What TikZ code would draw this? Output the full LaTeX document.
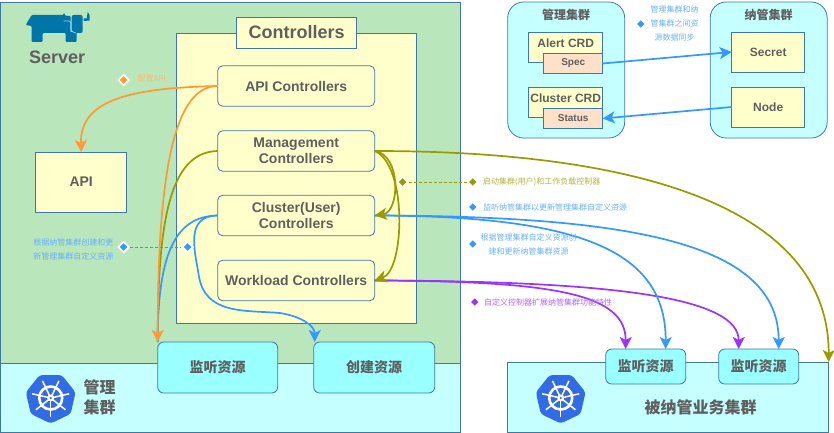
\documentclass[tikz,border=0pt]{standalone}
\usepackage{fontspec}
\usepackage{tikz}
\usetikzlibrary{arrows.meta}
\usetikzlibrary{shapes.geometric}
\setmainfont{Liberation Sans}
\newfontfamily\cjk{Noto Sans CJK SC}
\definecolor{edgeblue}{HTML}{3F78A8}
\definecolor{greenbg}{HTML}{B9E6BB}
\definecolor{cyanbg}{HTML}{C6FFFF}
\definecolor{cyanbox}{HTML}{99FFFF}
\definecolor{yellowbg}{HTML}{FFFFCC}
\definecolor{peachbg}{HTML}{FFE0C8}
\definecolor{greytext}{HTML}{5F5F5F}
\definecolor{orangeline}{HTML}{FF9933}
\definecolor{oliveline}{HTML}{999900}
\definecolor{blueline}{HTML}{3399FF}
\definecolor{purpleline}{HTML}{9933FF}
\definecolor{kubeblue}{HTML}{326CE5}
\definecolor{bullblue}{HTML}{0075A8}
\tikzset{
    block/.style={draw=edgeblue, line width=.8pt, inner sep=0pt, outer sep=0pt, text=greytext, align=center, font=\bfseries\fontsize{14}{16}\selectfont},
    ctrl/.style={block, rounded corners=5pt, fill=yellowbg, minimum width=157pt, minimum height=40.5pt},
    watch/.style={block, rounded corners=6pt, fill=cyanbox, font=\cjk\bfseries\fontsize{14}{16}\selectfont},
    crd/.style={block, fill=yellowbg, minimum width=74pt, minimum height=30pt},
    crdpart/.style={block, fill=peachbg, minimum width=59pt, minimum height=20pt, font=\bfseries\fontsize{10}{12}\selectfont},
    inner/.style={block, fill=yellowbg, minimum width=73pt, minimum height=40pt, font=\bfseries\fontsize{12}{14}\selectfont},
    cluster/.style={block, fill=cyanbg, rounded corners=16pt, minimum width=117pt, minimum height=136pt},
    title/.style={text=greytext, inner sep=0pt, font=\cjk\bfseries\fontsize{#1}{#1}\selectfont},
    flow/.style={-{Stealth[length=12pt,width=12pt,inset=3pt]}, line width=1.7pt, draw=#1},
    plain/.style={line width=1.7pt, draw=#1},
    keymark/.style={diamond, fill=#1, inner sep=0pt, minimum size=7.5pt},
    whitemark/.style={diamond, fill=#1, draw=white, line width=1.6pt, inner sep=0pt, minimum size=11pt},
    note/.style={text=#1, inner sep=0pt, align=center, font=\cjk\fontsize{8}{14}\selectfont},
    helm/.pic={
        \fill[kubeblue, rounded corners=3pt] (90:25.5)
            \foreach \a in {1,...,6} { -- (90+\a*360/7:25.5) } -- cycle;
        \draw[white, line width=2.6pt] (0,0) circle (11.5);
        \foreach \a in {0,...,6} {
            \draw[white, line width=1.5pt] (0,0) -- (90+\a*360/7:19);
        }
        \fill[white] (0,0) circle (3.5);
        \fill[kubeblue] (0,0) circle (1.2);
    },
}
\begin{document}
\begin{tikzpicture}[x=1pt,y=-1pt,semithick]
    \useasboundingbox (0.3,0) rectangle (834.3,433);

    % left side
    \node[block, fill=greenbg, minimum width=460pt, minimum height=361pt] (server) at (231,182.5) {};
    \node[block, fill=cyanbg, minimum width=460pt, minimum height=69pt] (manage) at (231,397.5) {};
    \node[block, fill=yellowbg, minimum width=240pt, minimum height=290pt] (ctrlarea) at (297,178) {};
    \node[block, fill=yellowbg, minimum width=120pt, minimum height=31pt, font=\bfseries\fontsize{18}{20}\selectfont] (ctrltitle) at (297,32.5) {Controllers};

    \node[ctrl] (apictrl) at (296.5,86) {API Controllers};
    \node[ctrl] (mgmtctrl) at (296.5,151) {Management\\Controllers};
    \node[ctrl] (userctrl) at (296.5,215.5) {Cluster(User)\\Controllers};
    \node[ctrl] (loadctrl) at (296.5,280.5) {Workload Controllers};
    \node[block, fill=yellowbg, minimum width=91pt, minimum height=60pt] (api) at (81.5,182) {API};

    % bull
    \fill[bullblue, rounded corners=1pt] (26,25) -- (32,15) -- (64,15) -- (64,12.5) -- (66,16) -- (71,16) -- (71,32) -- (66,32) -- (77,32) -- (77,42) -- (66,42) -- (66,33) -- (43,33) -- (43,42) -- (32,42) -- (32,26) -- cycle;
    \fill[bullblue, rounded corners=2pt] (72,15) -- (83,15) -- (83,33) -- (72,33) -- cycle;
    \draw[cyan!45!white, line width=.7pt, rounded corners=2pt] (64,21) -- (71,21) -- (71,31) -- (76,33);
    \fill[bullblue] (84,18.5) -- (87,18.5) -- (88,12) -- (90,15) -- (90,20.5) -- (84,21) -- cycle;
    \node[text=greytext, inner sep=0pt, font=\bfseries\fontsize{18}{20}\selectfont] (servername) at (57.5,57) {Server};

    \pic at (51,398) {helm};
    \node[title=16, align=center, font=\cjk\bfseries\fontsize{16}{20}\selectfont] (managename) at (100,397.5) {管理\\集群};

    % right side
    \node[block, fill=cyanbg, minimum width=321pt, minimum height=70pt] (business) at (668.5,397) {};
    \pic at (561,398) {helm};
    \node[title=16] (businessname) at (701,407) {被纳管业务集群};

    % top right
    \node[cluster] (topmanage) at (566.5,70) {};
    \node[cluster] (topunder) at (769,70) {};
    \node[title=12] (topmanagename) at (566.5,15) {管理集群};
    \node[title=12] (topundername) at (769,15) {纳管集群};
    \node[crd] (alert) at (566,47) {};
    \node[crd] (clustercrd) at (566,102) {};
    \node[crdpart] (spec) at (573.5,63.5) {Spec};
    \node[crdpart] (status) at (573.5,118.5) {Status};
    \node[inner sep=0pt, text=greytext, font=\bfseries\fontsize{12}{14}\selectfont] (alertname) at (566,43) {Alert CRD};
    \node[inner sep=0pt, text=greytext, font=\bfseries\fontsize{12}{14}\selectfont] (clustername) at (566,98.5) {Cluster CRD};
    \node[inner] (secret) at (768.5,52) {Secret};
    \node[inner] (nodebox) at (768.5,107) {Node};

    \draw[flow=blueline] (spec.east) -- (secret.west);
    \draw[flow=blueline] (nodebox.west) -- (status.east);

    % connector ends
    \coordinate (watchleft) at (158,342);
    \coordinate (createtop) at (315,342);
    \coordinate (underone) at (626,349);
    \coordinate (undertwo) at (666,349);
    \coordinate (underthree) at (739,349);
    \coordinate (underfour) at (779,349);
    \coordinate (underedge) at (829,362);

    \draw[flow=oliveline] (mgmtctrl.east) .. controls (620,151) and (829,200) .. (underedge);
    \draw[flow=purpleline] (loadctrl.east) .. controls (560,281) and (626,295) .. (underone);
    \draw[flow=purpleline] (loadctrl.east) .. controls (630,281) and (739,300) .. (underthree);
    \draw[flow=blueline] (userctrl.east) .. controls (580,216) and (666,250) .. (undertwo);
    \draw[flow=blueline] (userctrl.east) .. controls (640,216) and (779,245) .. (underfour);
    \draw[flow=oliveline] (mgmtctrl.east) .. controls (402,155) and (400,212) .. (userctrl.east);
    \draw[flow=oliveline] (mgmtctrl.east) .. controls (408,165) and (405,270) .. (loadctrl.east);

    \draw[flow=orangeline] (apictrl.west) .. controls (130,88) and (80,100) .. (api.north);
    \draw[plain=oliveline] (mgmtctrl.west) .. controls (170,152) and (158,220) .. (watchleft);
    \draw[plain=blueline] (userctrl.west) .. controls (175,216) and (158,255) .. (watchleft);
    \draw[flow=orangeline] (apictrl.west) .. controls (175,86) and (158,170) .. (watchleft);
    \draw[flow=blueline] (userctrl.west) .. controls (185,216) and (195,250) .. (199,275) .. controls (205,315) and (245,310) .. (280,313) .. controls (300,316) and (315,325) .. (createtop);

    \node[watch, minimum width=120pt, minimum height=51pt] (watcha) at (218,367.5) {监听资源};
    \node[watch, minimum width=121pt, minimum height=51pt] (createa) at (374.5,367.5) {创建资源};
    \node[watch, minimum width=80pt, minimum height=35pt] (watchb) at (646,366.5) {监听资源};
    \node[watch, minimum width=80pt, minimum height=35pt] (watchc) at (759,366.5) {监听资源};

    % notes
    \node[whitemark=orangeline] (markapi) at (124,80) {};
    \node[note=orangeline!70!white] (noteapi) at (152,79) {配置API};

    \node[whitemark=blueline] (markcreate) at (124,247) {};
    \node[whitemark=blueline] (markcreateb) at (188,247) {};
    \draw[blueline, densely dashed, thin] (markcreate) -- (markcreateb);
    \node[note=blueline!75!white, anchor=east, align=right] (notecreate) at (114,249) {根据纳管集群创建和更\\新管理集群自定义资源};

    \node[whitemark=oliveline] (markstart) at (403,182) {};
    \node[keymark=oliveline] (markstartb) at (473,182) {};
    \draw[oliveline, densely dashed, thin] (markstart) -- (markstartb);
    \node[note=oliveline!75!white, anchor=west] (notestart) at (483,182) {启动集群(用户)和工作负载控制器};

    \node[keymark=blueline] (markwatch) at (473,207) {};
    \node[note=blueline!75!white, anchor=west] (notewatch) at (483,207) {监听纳管集群以更新管理集群自定义资源};

    \node[keymark=blueline] (markupdate) at (473,244) {};
    \node[note=blueline!75!white] (noteupdate) at (529,244) {根据管理集群自定义资源创\\建和更新纳管集群资源};

    \node[keymark=purpleline] (markextend) at (475,302) {};
    \node[note=purpleline!75!white, anchor=west] (noteextend) at (484,302) {自定义控制器扩展纳管集群功能特性};

    \node[keymark=blueline] (marksync) at (641,24) {};
    \node[note=blueline!75!white] (notesync) at (675,23) {管理集群和纳\\管集群之间资\\源数据同步};
\end{tikzpicture}
\end{document}
